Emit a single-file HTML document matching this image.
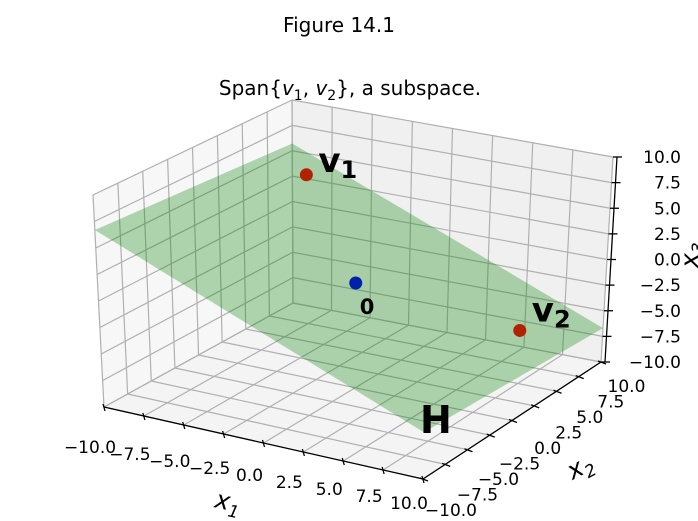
<!DOCTYPE html>
<html><head><meta charset="utf-8"><style>
body{margin:0;background:#fff}
svg{display:block;font-family:"DejaVu Sans","Liberation Sans",sans-serif}
</style></head><body>
<svg id="chart" width="698" height="521" viewBox="0 0 698 521" xmlns="http://www.w3.org/2000/svg">
<text x="339" y="32" font-size="20" text-anchor="middle">Figure 14.1</text>
<text x="350" y="95" font-size="20" text-anchor="middle">Span{<tspan font-style="italic">v</tspan><tspan font-size="14" dy="5">1</tspan><tspan dy="-5">, </tspan><tspan font-style="italic">v</tspan><tspan font-size="14" dy="5">2</tspan><tspan dy="-5">}, a subspace.</tspan></text>
<g id="panes"></g><g id="grid"></g><g id="plane"></g><g id="axes"></g><g id="points"></g><g id="labels"></g>
</svg>
<script>
const ticks = [-10, -7.5, -5, -2.5, 0, 2.5, 5, 7.5, 10];
const tickLabels = ["\u221210.0","\u22127.5","\u22125.0","\u22122.5","0.0","2.5","5.0","7.5","10.0"];
const v1 = [-7.7, 7.7, 4.4];
const v2 = [7.5, 5, -4.9];
const origin = [0, 0, 0];
const NS = "http://www.w3.org/2000/svg";
const C = {
 "000":[104,407],"100":[423,479],"110":[601,362],"010":[293,303],
 "001":[93,195],"101":[427,261],"111":[613,157],"011":[292,100]};
function P(x,y,z){
  const u=(x+10)/20,v=(y+10)/20,w=(z+10)/20;let sx=0,sy=0;
  for(const a of [0,1])for(const b of [0,1])for(const c of [0,1]){
    const wt=(a?u:1-u)*(b?v:1-v)*(c?w:1-w);const p=C[""+a+b+c];sx+=wt*p[0];sy+=wt*p[1];}
  return [sx,sy];
}
function el(tag,attrs,parent){const e=document.createElementNS(NS,tag);for(const k in attrs)e.setAttribute(k,attrs[k]);parent.appendChild(e);return e;}
function poly(pts){return pts.map(p=>p.join(",")).join(" ");}
const panes=document.getElementById("panes"),grid=document.getElementById("grid"),axes=document.getElementById("axes");
let e;
e=el("polygon",{points:poly([P(-10,-10,-10),P(-10,10,-10),P(-10,10,10),P(-10,-10,10)]),fill:"#f7f7f7",stroke:"#ececec"},panes);

e=el("polygon",{points:poly([P(-10,10,-10),P(10,10,-10),P(10,10,10),P(-10,10,10)]),fill:"#f0f0f0",stroke:"#ececec"},panes);

e=el("polygon",{points:poly([P(-10,-10,-10),P(10,-10,-10),P(10,10,-10),P(-10,10,-10)]),fill:"#f4f4f4",stroke:"#ececec"},panes);

function line(a,b,parent,attrs){return el("line",Object.assign({x1:a[0],y1:a[1],x2:b[0],y2:b[1]},attrs),parent);}
const g={stroke:"#b0b0b0","stroke-width":1.2};
ticks.forEach(t=>{
  e=line(P(t,-10,-10),P(t,10,-10),grid,g);
  e=line(P(-10,t,-10),P(10,t,-10),grid,g);
  e=line(P(t,10,-10),P(t,10,10),grid,g);
  e=line(P(-10,10,t),P(10,10,t),grid,g);
  e=line(P(-10,t,-10),P(-10,t,10),grid,g);
  e=line(P(-10,-10,t),P(-10,10,t),grid,g);
});
const n=[v1[1]*v2[2]-v1[2]*v2[1],v1[2]*v2[0]-v1[0]*v2[2],v1[0]*v2[1]-v1[1]*v2[0]];
function zp(x,y){return -(n[0]*x+n[1]*y)/n[2];}
const pc=[[-10,-10],[10,-10],[10,10],[-10,10]].map(([x,y])=>P(x,y,zp(x,y)));
e=el("polygon",{points:poly(pc),fill:"rgb(0,128,0)","fill-opacity":0.3},document.getElementById("plane"));

const ax={stroke:"#000","stroke-width":1.3};
e=line(P(-10,-10,-10),P(10,-10,-10),axes,ax);
e=line(P(10,-10,-10),P(10,10,-10),axes,ax);
const zoff=4;
function Pz(z){const p=P(10,10,z);return [p[0]+zoff,p[1]];}
e=line(Pz(-10),Pz(10),axes,ax);
ticks.forEach((t,i)=>{
  let p=P(t,-10,-10);
  e=line([p[0]-1,p[1]-3],[p[0]+1,p[1]+4],axes,ax);
  e=el("text",{x:p[0]-14,y:p[1]+46-2*i,"font-size":17,"text-anchor":"middle"},axes);e.textContent=tickLabels[i];
  
  p=P(10,t,-10);
  e=line([p[0]-3,p[1]-1],[p[0]+5,p[1]+2],axes,ax);
  e=el("text",{x:p[0]+54-1.2*i,y:p[1]+37-0.9*i,"font-size":17,"text-anchor":"end"},axes);e.textContent=tickLabels[i];
  
  p=Pz(t);
  e=line([p[0]-4,p[1]],[p[0]+5,p[1]],axes,ax);
  e=el("text",{x:681,y:p[1]+6,"font-size":17,"text-anchor":"end"},axes);e.textContent=tickLabels[i];
  
});
e=el("text",{x:228,y:510,"font-size":25,"font-style":"italic","text-anchor":"middle",transform:"rotate(12 228 502)"},axes);
e.innerHTML='x<tspan font-size="17" dy="6">1</tspan>';

e=el("text",{x:580,y:475,"font-size":25,"font-style":"italic","text-anchor":"middle",transform:"rotate(-28 580 467)"},axes);
e.innerHTML='x<tspan font-size="17" dy="6">2</tspan>';

e=el("text",{x:691,y:262,"font-size":25,"font-style":"italic","text-anchor":"middle",transform:"rotate(-90 691 255)"},axes);
e.innerHTML='x<tspan font-size="17" dy="6">3</tspan>';

const pts=document.getElementById("points");
[[v1,"#b22200","point-v1"],[v2,"#b22200","point-v2"],[origin,"#0022aa","point-origin"]].forEach(([v,c,name])=>{
  const p=P(v[0],v[1],v[2]);
  const ci=el("circle",{cx:p[0],cy:p[1],r:6.5,fill:c},pts);
  
  
});
const lab=document.getElementById("labels");
let q=P(v1[0],v1[1],v1[2]);
e=el("text",{x:q[0]+12,y:q[1]-3,"font-size":34,"font-weight":"bold"},lab);e.innerHTML='v<tspan font-size="24" dy="6">1</tspan>';

q=P(v2[0],v2[1],v2[2]);
e=el("text",{x:q[0]+12,y:q[1]-9,"font-size":34,"font-weight":"bold"},lab);e.innerHTML='v<tspan font-size="24" dy="6">2</tspan>';

q=P(0,0,0);
e=el("text",{x:q[0]+4,y:q[1]+31,"font-size":21,"font-weight":"bold"},lab);e.textContent='0';

e=el("text",{x:420,y:433,"font-size":38,"font-weight":"bold"},lab);e.textContent='H';

</script>
</body></html>
